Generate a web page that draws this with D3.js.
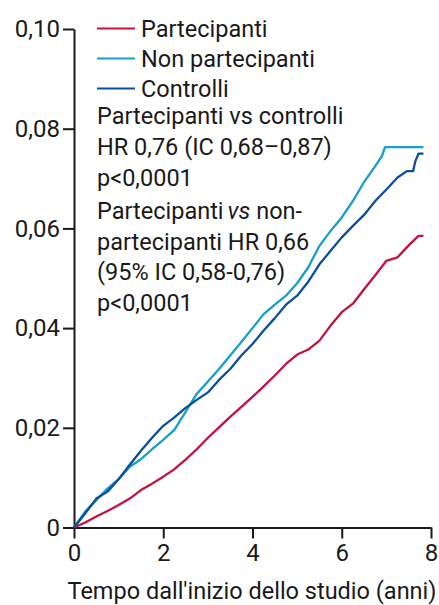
<!DOCTYPE html>
<html>
<head>
<meta charset="utf-8">
<script src="https://cdn.jsdelivr.net/npm/d3@7"></script>
<style>
  html, body { margin: 0; padding: 0; background: #fff; }
  svg text { font-family: Roboto, "Noto Sans", sans-serif; fill: #1a1a1a; }
</style>
</head>
<body>
<svg id="chart" width="439" height="605"></svg>
<script>
// cumulative incidence curves
const years = [0, 0.25, 0.5, 0.75, 1, 1.25, 1.5, 1.75, 2, 2.25, 2.5, 2.75, 3, 3.25, 3.5, 3.75,
  4, 4.25, 4.5, 4.75, 5, 5.25, 5.5, 5.75, 6, 6.25, 6.5, 6.75, 7, 7.25, 7.5];

const partecipanti = [0, 0.001, 0.0022, 0.0033, 0.0045, 0.0058, 0.0075, 0.0088, 0.0102, 0.0117,
  0.0136, 0.0157, 0.018, 0.0201, 0.0222, 0.0242, 0.0262, 0.0283, 0.0305, 0.0328, 0.0347, 0.0357,
  0.0375, 0.0405, 0.0432, 0.0449, 0.0478, 0.0506, 0.0535, 0.0542, 0.0566];
const partecipantiTail = [[7.72, 0.0585], [7.83, 0.0585]];

const nonPartecipanti = [0, 0.0032, 0.0055, 0.0078, 0.0097, 0.0122, 0.0137, 0.0157, 0.0176, 0.0196,
  0.0232, 0.0268, 0.0293, 0.0318, 0.0345, 0.0372, 0.04, 0.0428, 0.0447, 0.0465, 0.049, 0.0522,
  0.0565, 0.0595, 0.0622, 0.0655, 0.0693, 0.0725];
const nonPartecipantiTail = [[6.9, 0.0745], [6.97, 0.0763], [7.83, 0.0763]];

const controlli = [0, 0.0028, 0.0058, 0.0072, 0.0097, 0.0126, 0.0154, 0.018, 0.0204, 0.0221,
  0.024, 0.0256, 0.0271, 0.0296, 0.0318, 0.0345, 0.0368, 0.0395, 0.042, 0.0447, 0.0465, 0.0493,
  0.0528, 0.0555, 0.0582, 0.0605, 0.0627, 0.0655, 0.0678, 0.0702];
const controlliTail = [[7.46, 0.0715], [7.6, 0.0715], [7.65, 0.0735], [7.72, 0.075], [7.83, 0.075]];

const xTicks = [0, 2, 4, 6, 8];
const yTicks = [0, 0.02, 0.04, 0.06, 0.08, 0.10];

const legendItems = ["Partecipanti", "Non partecipanti", "Controlli"];
const colors = ["#c4123f", "#179fc8", "#0b4f9c"];

const svg = d3.select("#chart");
const FS = 23.5;

const x = d3.scaleLinear().domain([0, 8]).range([74, 431]);
const y = d3.scaleLinear().domain([0, 0.10]).range([527.5, 29]);

const fmt = (d) => (d === 0 ? "0" : d3.format(".2f")(d).replace(".", ","));

// axes
const yAxisG = svg.append("g").attr("transform", "translate(74,0)")
  .call(d3.axisLeft(y).tickValues(yTicks).tickFormat(fmt).tickSize(11).tickSizeOuter(0).tickPadding(3));
const xAxisG = svg.append("g").attr("transform", "translate(0,527.5)")
  .call(d3.axisBottom(x).tickValues(xTicks).tickSize(11).tickSizeOuter(0).tickPadding(5));

[yAxisG, xAxisG].forEach((g) => {
  g.selectAll("path.domain, line").attr("stroke", "#1a1a1a").attr("stroke-width", 2);
  g.selectAll("text").attr("font-size", 24).attr("fill", "#1a1a1a")
    .style("font-family", "Roboto, sans-serif");
});

// axis title
svg.append("text")
  .attr("x", 252).attr("y", 599)
  .attr("text-anchor", "middle")
  .attr("font-size", FS)
  .text("Tempo dall'inizio dello studio (anni)");

// curves
const series = [
  years.slice(0, partecipanti.length).map((t, i) => [t, partecipanti[i]]).concat(partecipantiTail),
  years.slice(0, nonPartecipanti.length).map((t, i) => [t, nonPartecipanti[i]]).concat(nonPartecipantiTail),
  years.slice(0, controlli.length).map((t, i) => [t, controlli[i]]).concat(controlliTail),
];

const line = d3.line().x((d) => x(d[0])).y((d) => y(d[1]));

// draw order: red, light blue, dark blue on top
svg.append("g").selectAll("path")
  .data(series)
  .join("path")
  .attr("d", line)
  .attr("fill", "none")
  .attr("stroke", (d, i) => colors[i])
  .attr("stroke-width", 2.3)
  .attr("stroke-linejoin", "round");

// legend
const legG = svg.append("g");
legendItems.forEach((name, i) => {
  const yy = 28.5 + i * 30;
  legG.append("line")
    .attr("x1", 97).attr("x2", 135).attr("y1", yy).attr("y2", yy)
    .attr("stroke", colors[i]).attr("stroke-width", 2);
  legG.append("text")
    .attr("x", 141).attr("y", yy + 8)
    .attr("font-size", FS)
    .text(name);
});

// annotation
const notes = [
  ["Partecipanti vs controlli"],
  ["HR 0,76 (IC 0,68–0,87)"],
  ["p<0,0001"],
  ["Partecipanti", "vs", " non-"],
  ["partecipanti HR 0,66"],
  ["(95% IC 0,58-0,76)"],
  ["p<0,0001"],
];
const noteY = [124, 155, 186, 219, 250, 280, 311];
notes.forEach((parts, i) => {
  const t = svg.append("text").attr("x", 97).attr("y", noteY[i]).attr("font-size", FS);
  parts.forEach((p, j) => {
    const s = t.append("tspan").text(p);
    if (p === "vs") s.attr("font-style", "italic").attr("dx", 4);
  });
});
</script>
</body>
</html>
